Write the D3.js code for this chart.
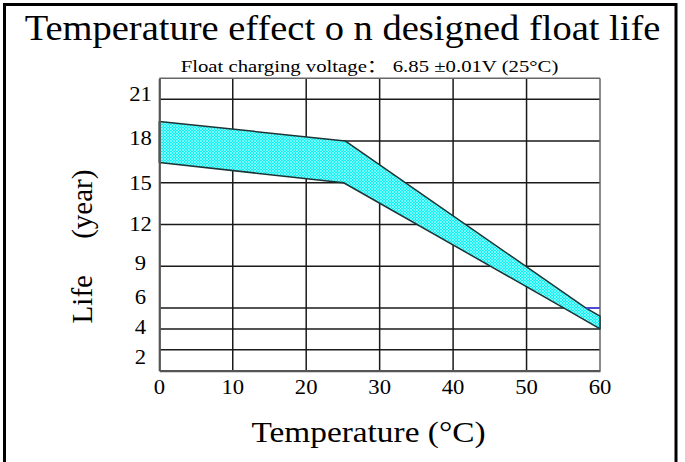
<!DOCTYPE html>
<html><head><meta charset="utf-8">
<script src="https://cdn.jsdelivr.net/npm/d3@7"></script>
<style>html,body{margin:0;padding:0;background:#fff;}svg{display:block;}</style>
</head><body>
<script>
// ---- data ----
const xTicks = [0, 10, 20, 30, 40, 50, 60];
const yTicks = [2, 4, 6, 9, 12, 15, 18, 21];
const yBreaks = [0, 2, 4, 6, 9, 12, 15, 18, 21, 22.5];
const upperTemp = [0, 25.3, 58.1, 60];
const upperLife = [19.4, 18.0, 6.0, 5.22];
const lowerTemp = [0, 25.1, 55.1, 60];
const lowerLife = [16.45, 15.0, 6.0, 4.0];
const titleText = "Temperature effect o n designed float life";
const subtitleText = "Float charging voltage：  6.85 ±0.01V (25°C)";
const xLabelText = "Temperature (°C)";
const yLabelText = "Life\u2003 (year)";

// ---- layout ----
const W = 685, H = 462;
const plot = {left: 159.3, right: 600, top: 78.3, bottom: 370.7};
const serif = "'Liberation Serif','Times New Roman','Noto Sans CJK SC',serif";

const svg = d3.select("body").append("svg").attr("width", W).attr("height", H);

const x = d3.scaleLinear().domain([0, 60]).range([plot.left, plot.right]);
// uneven axis: 3-unit steps get a full pitch, 2-unit steps get half a pitch
const steps = [0, 0.5, 1, 1.5, 2.5, 3.5, 4.5, 5.5, 6.5, 7];
const y = d3.scaleLinear().domain(yBreaks)
  .range(steps.map(s => plot.bottom - s / 7 * (plot.bottom - plot.top)));

function stretchedText(parent, tx, ty, str, size, sx, anchor, rot) {
  const g = parent.append("g")
    .attr("transform", `translate(${tx},${ty})` + (rot ? ` rotate(${rot})` : "") + ` scale(${sx},1)`);
  return g.append("text").attr("x", 0).attr("y", 0)
    .attr("text-anchor", anchor || "middle")
    .attr("font-family", serif).attr("font-size", size)
    .attr("fill", "#000").text(str);
}

// outer frame
svg.append("rect").attr("x", 4.5).attr("y", 4.5).attr("width", 671.5).attr("height", 480)
  .attr("fill", "none").attr("stroke", "#000").attr("stroke-width", 3);

// pattern for band
const defs = svg.append("defs");
const pat = defs.append("pattern").attr("id", "hatch").attr("patternUnits", "userSpaceOnUse")
  .attr("width", 3).attr("height", 3);
pat.append("rect").attr("width", 3).attr("height", 3).attr("fill", "#0ff0f2");
pat.append("path").attr("d", "M0,0 L3,3 M3,0 L0,3").attr("stroke", "#b8ffff").attr("stroke-width", 0.6);

// grid
const grid = svg.append("g");
grid.selectAll("line.v").data(xTicks.slice(1, -1)).enter().append("line")
  .attr("x1", d => x(d)).attr("x2", d => x(d)).attr("y1", plot.top).attr("y2", plot.bottom)
  .attr("stroke", "#1a1a1a").attr("stroke-width", 1.5);
grid.selectAll("line.h").data(yTicks).enter().append("line")
  .attr("x1", plot.left).attr("x2", plot.right).attr("y1", d => y(d)).attr("y2", d => y(d))
  .attr("stroke", "#1a1a1a").attr("stroke-width", 1.5);

// top / right border
svg.append("line").attr("x1", plot.left).attr("x2", plot.right).attr("y1", plot.top).attr("y2", plot.top)
  .attr("stroke", "#666").attr("stroke-width", 1.5);
svg.append("line").attr("x1", plot.right).attr("x2", plot.right).attr("y1", plot.top).attr("y2", plot.bottom)
  .attr("stroke", "#666").attr("stroke-width", 1.5);

// band
const upper = upperTemp.map((t, i) => [t, upperLife[i]]);
const lower = lowerTemp.map((t, i) => [t, lowerLife[i]]);
const poly = upper.concat(lower.slice().reverse());
const line = d3.line().x(d => x(d[0])).y(d => y(d[1]));
svg.append("path").attr("d", line(poly) + "Z")
  .attr("fill", "url(#hatch)").attr("stroke", "#1c3434").attr("stroke-width", 1.5)
  .attr("stroke-linejoin", "round");

// blue segment on the 6-year line to the right of the band
svg.append("line").attr("x1", x(upperTemp[2])).attr("x2", x(60)).attr("y1", y(6)).attr("y2", y(6))
  .attr("stroke", "#4a4aff").attr("stroke-width", 1.5);

// axes
const xAxis = d3.axisBottom(x).tickValues(xTicks).tickSize(0).tickFormat("");
svg.append("g").attr("transform", `translate(0,${plot.bottom})`).call(xAxis)
  .select(".domain").attr("stroke", "#555").attr("stroke-width", 2.2);
const yAxis = d3.axisLeft(y).tickValues(yTicks).tickSize(0).tickFormat("");
svg.append("g").attr("transform", `translate(${plot.left},0)`).call(yAxis)
  .select(".domain").attr("stroke", "#555").attr("stroke-width", 2.2);

// tick labels
xTicks.forEach(t => stretchedText(svg, x(t), 394, String(t), 21, 1.08, "middle"));
const yNudge = {21: -5.5, 18: -3.3, 15: 0.3, 12: -1, 9: -3.5, 6: -11, 4: -2.3, 2: 6.7};
yTicks.forEach(t => stretchedText(svg, 140.5, y(t) + yNudge[t] + 7, String(t), 21, 1.08, "middle"));

// titles
stretchedText(svg, 342.5, 40, titleText, 35, 1.1, "middle");
stretchedText(svg, 369.5, 72, subtitleText, 17, 1.22, "middle");
stretchedText(svg, 368.5, 442, xLabelText, 29, 1.15, "middle");
stretchedText(svg, 92, 246.5, yLabelText, 29, 1, "middle", -90);
</script>
</body></html>
